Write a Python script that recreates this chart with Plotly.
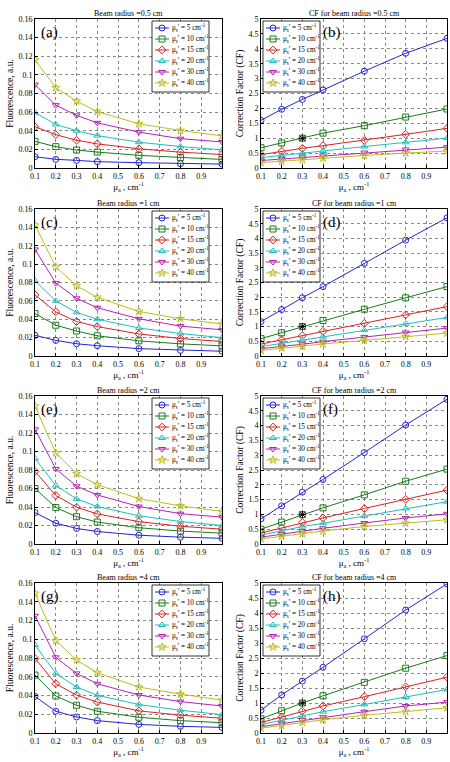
import plotly.graph_objects as go

mua = [0.1, 0.2, 0.3, 0.4, 0.6, 0.8, 1.0]
mus_values = [5, 10, 15, 20, 30, 40]

# Fluorescence (a.u.) per beam radius, rows = mus' 5,10,15,20,30,40
fluor_r05 = [
    [0.0121, 0.0093, 0.0082, 0.0068, 0.0057, 0.0046, 0.0042],
    [0.0286, 0.0229, 0.0193, 0.0171, 0.0136, 0.0112, 0.0092],
    [0.0443, 0.0358, 0.0298, 0.0259, 0.0206, 0.0170, 0.0145],
    [0.0595, 0.0468, 0.0400, 0.0348, 0.0277, 0.0230, 0.0195],
    [0.0895, 0.0675, 0.0565, 0.0485, 0.0385, 0.0315, 0.0280],
    [0.1160, 0.0862, 0.0718, 0.0605, 0.0475, 0.0403, 0.0345],
]
fluor_r1 = [
    [0.0225, 0.0170, 0.0133, 0.0112, 0.0080, 0.0062, 0.0052],
    [0.0462, 0.0335, 0.0272, 0.0220, 0.0165, 0.0132, 0.0110],
    [0.0665, 0.0480, 0.0375, 0.0320, 0.0240, 0.0190, 0.0158],
    [0.0820, 0.0600, 0.0475, 0.0400, 0.0305, 0.0245, 0.0200],
    [0.1160, 0.0795, 0.0628, 0.0525, 0.0405, 0.0325, 0.0285],
    [0.1425, 0.0970, 0.0765, 0.0638, 0.0485, 0.0405, 0.0348],
]
fluor_r2 = [
    [0.0340, 0.0225, 0.0168, 0.0135, 0.0095, 0.0074, 0.0062],
    [0.0600, 0.0395, 0.0295, 0.0237, 0.0176, 0.0140, 0.0117],
    [0.0785, 0.0525, 0.0398, 0.0325, 0.0242, 0.0192, 0.0160],
    [0.0925, 0.0632, 0.0488, 0.0405, 0.0305, 0.0243, 0.0200],
    [0.1240, 0.0812, 0.0625, 0.0530, 0.0405, 0.0328, 0.0290],
    [0.1490, 0.0985, 0.0760, 0.0642, 0.0490, 0.0412, 0.0352],
]
fluor_r4 = [
    [0.0390, 0.0232, 0.0171, 0.0132, 0.0092, 0.0071, 0.0060],
    [0.0618, 0.0395, 0.0296, 0.0232, 0.0168, 0.0132, 0.0110],
    [0.0795, 0.0525, 0.0404, 0.0330, 0.0236, 0.0190, 0.0157],
    [0.0940, 0.0636, 0.0490, 0.0402, 0.0304, 0.0243, 0.0196],
    [0.1250, 0.0807, 0.0636, 0.0525, 0.0405, 0.0335, 0.0288],
    [0.1490, 0.0986, 0.0779, 0.0643, 0.0490, 0.0415, 0.0350],
]

# Correction factor per beam radius
cf_r05 = [
    [1.60, 1.97, 2.30, 2.62, 3.25, 3.85, 4.35],
    [0.68, 0.84, 1.00, 1.17, 1.42, 1.71, 1.98],
    [0.45, 0.56, 0.66, 0.75, 0.93, 1.13, 1.33],
    [0.35, 0.43, 0.50, 0.57, 0.72, 0.86, 1.00],
    [0.25, 0.30, 0.36, 0.42, 0.52, 0.62, 0.70],
    [0.18, 0.23, 0.28, 0.33, 0.42, 0.50, 0.57],
]
cf_r1 = [
    [1.17, 1.58, 1.98, 2.36, 3.15, 3.94, 4.70],
    [0.59, 0.79, 1.00, 1.21, 1.59, 1.98, 2.36],
    [0.41, 0.55, 0.69, 0.84, 1.11, 1.40, 1.68],
    [0.32, 0.43, 0.55, 0.66, 0.88, 1.10, 1.31],
    [0.25, 0.32, 0.40, 0.49, 0.65, 0.80, 0.95],
    [0.19, 0.27, 0.33, 0.41, 0.53, 0.66, 0.78],
]
cf_r2 = [
    [0.85, 1.29, 1.75, 2.18, 3.09, 4.02, 4.89],
    [0.50, 0.74, 0.99, 1.22, 1.66, 2.12, 2.53],
    [0.37, 0.54, 0.73, 0.88, 1.20, 1.51, 1.82],
    [0.30, 0.44, 0.59, 0.70, 0.95, 1.20, 1.43],
    [0.23, 0.33, 0.44, 0.53, 0.71, 0.88, 1.02],
    [0.17, 0.26, 0.35, 0.44, 0.59, 0.70, 0.82],
]
cf_r4 = [
    [0.76, 1.27, 1.73, 2.19, 3.14, 4.10, 4.97],
    [0.47, 0.74, 1.00, 1.24, 1.69, 2.16, 2.58],
    [0.35, 0.53, 0.73, 0.90, 1.21, 1.54, 1.86],
    [0.28, 0.43, 0.58, 0.71, 0.95, 1.20, 1.45],
    [0.21, 0.31, 0.43, 0.53, 0.71, 0.90, 1.03],
    [0.16, 0.25, 0.35, 0.44, 0.59, 0.72, 0.84],
]

ref_point_x = [0.3]
ref_point_y = [1.0]

panel_titles = [
    "Beam radius =0.5 cm", "CF for beam radius =0.5 cm",
    "Beam radius =1 cm", "CF for beam radius =1 cm",
    "Beam radius =2 cm", "CF for beam radius =2 cm",
    "Beam radius =4 cm", "CF for beam radius =4 cm",
]
panel_letters = ["(a)", "(b)", "(c)", "(d)", "(e)", "(f)", "(g)", "(h)"]
panel_data = [fluor_r05, cf_r05, fluor_r1, cf_r1, fluor_r2, cf_r2, fluor_r4, cf_r4]

colors = ["#2424d2", "#1c7a1c", "#d42424", "#22bdbd", "#b422b4", "#bdbd1e"]
symbols = ["circle-open", "square-open", "diamond-open", "triangle-up-open",
           "triangle-down-open", "star-open"]

W, H = 450, 762
FONT = "Liberation Serif, Times New Roman, serif"

# plot-area boxes in pixels
row_px = [(19, 168), (209, 356), (396, 544), (583, 733)]
col_px = [(35, 222), (261, 447)]


def px_x(v):
    return v / W


def px_y(v):
    return 1 - v / H


fig = go.Figure()
layout = {}
annotations = []

LEG_W, LEG_H, LEG_STEP = 57, 71, 11.0
leg_boxes = []

for p in range(8):
    r, c = divmod(p, 2)
    idx = p + 1
    xa = "xaxis" if idx == 1 else f"xaxis{idx}"
    ya = "yaxis" if idx == 1 else f"yaxis{idx}"
    xr = "x" if idx == 1 else f"x{idx}"
    yr = "y" if idx == 1 else f"y{idx}"
    top, bot = row_px[r]
    left, right = col_px[c]
    is_cf = (c == 1)

    for s in range(6):
        fig.add_trace(go.Scatter(
            x=mua, y=panel_data[p][s], mode="lines+markers",
            name=f"μs' = {mus_values[s]} cm-1",
            line=dict(color=colors[s], width=1),
            marker=dict(symbol=symbols[s], color=colors[s], size=6,
                        line=dict(width=1, color=colors[s])),
            xaxis=xr, yaxis=yr, showlegend=False,
        ))
    if is_cf:
        fig.add_trace(go.Scatter(
            x=ref_point_x, y=ref_point_y, mode="markers",
            marker=dict(symbol="asterisk-open", color="black", size=6,
                        line=dict(width=1, color="black")),
            xaxis=xr, yaxis=yr, showlegend=False, hoverinfo="skip",
        ))

    layout[xa] = dict(
        domain=[px_x(left), px_x(right)], anchor=yr, range=[0.1, 1.0],
        tickvals=[0.1, 0.2, 0.3, 0.4, 0.5, 0.6, 0.7, 0.8, 0.9],
        ticktext=["0.1", "0.2", "0.3", "0.4", "0.5", "0.6", "0.7", "0.8", "0.9"],
        showgrid=True, gridcolor="#8a8a8a", griddash="dot", gridwidth=0.6,
        showline=True, linecolor="black", linewidth=0.8, mirror=True,
        ticks="inside", ticklen=3, tickcolor="black",
        tickfont=dict(family=FONT, size=8, color="black"),
        title=dict(text="μ<sub>a</sub> , cm<sup>-1</sup>", standoff=1,
                   font=dict(family=FONT, size=9, color="black")),
        zeroline=False, automargin=False,
    )
    if is_cf:
        yvals = [0, 0.5, 1, 1.5, 2, 2.5, 3, 3.5, 4, 4.5, 5]
        ytext = ["0", "0.5", "1", "1.5", "2", "2.5", "3", "3.5", "4", "4.5", "5"]
        yrange = [0, 5]
        ytitle = "Correction Factor (CF)"
    else:
        yvals = [0, 0.02, 0.04, 0.06, 0.08, 0.1, 0.12, 0.14, 0.16]
        ytext = ["0", "0.02", "0.04", "0.06", "0.08", "0.1", "0.12", "0.14", "0.16"]
        yrange = [0, 0.16]
        ytitle = "Fluorescence, a.u."
    layout[ya] = dict(
        domain=[px_y(bot), px_y(top)], anchor=xr, range=yrange,
        tickvals=yvals, ticktext=ytext,
        showgrid=True, gridcolor="#8a8a8a", griddash="dot", gridwidth=0.6,
        showline=True, linecolor="black", linewidth=0.8, mirror=True,
        ticks="inside", ticklen=3, tickcolor="black",
        tickfont=dict(family=FONT, size=8, color="black"),
        title=dict(text=ytitle, standoff=3,
                   font=dict(family=FONT, size=9.5, color="black")),
        zeroline=False, automargin=False,
    )
    if is_cf:
        bl = left + 2
    else:
        bl = right - 13 - LEG_W
    bt = top + 2
    leg_boxes.append((bl, bt))

    annotations.append(dict(
        text=panel_titles[p], xref="paper", yref="paper",
        x=px_x((left + right) / 2), y=px_y(top - 6),
        xanchor="center", yanchor="middle", showarrow=False,
        font=dict(family=FONT, size=8, color="black"),
    ))
    annotations.append(dict(
        text=panel_letters[p], xref=f"{xr} domain", yref=f"{yr} domain",
        x=0.32 if is_cf else 0.02, y=0.98, xanchor="left", yanchor="top",
        showarrow=False,
        font=dict(family=FONT, size=15, color="black"),
    ))

# ---- compact legends on an overlay axis in pixel units ----
layout["xaxis9"] = dict(domain=[0, 1], range=[0, W], visible=False,
                        anchor="y9", fixedrange=True)
layout["yaxis9"] = dict(domain=[0, 1], range=[H, 0], visible=False,
                        anchor="x9", fixedrange=True)

bx, by = [], []
for (bl, bt) in leg_boxes:
    bx += [bl, bl + LEG_W, bl + LEG_W, bl, bl, None]
    by += [bt, bt, bt + LEG_H, bt + LEG_H, bt, None]
fig.add_trace(go.Scatter(
    x=bx, y=by, mode="lines", fill="toself", fillcolor="white",
    line=dict(color="black", width=0.8), xaxis="x9", yaxis="y9",
    showlegend=False, hoverinfo="skip",
))
for s in range(6):
    lx, ly, mx, my = [], [], [], []
    for (bl, bt) in leg_boxes:
        yc = bt + 7 + s * LEG_STEP
        lx += [bl + 3, bl + 17, None]
        ly += [yc, yc, None]
        mx.append(bl + 10)
        my.append(yc)
    fig.add_trace(go.Scatter(
        x=lx, y=ly, mode="lines", line=dict(color=colors[s], width=1),
        xaxis="x9", yaxis="y9", showlegend=False, hoverinfo="skip",
    ))
    fig.add_trace(go.Scatter(
        x=mx, y=my, mode="markers",
        marker=dict(symbol=symbols[s], color=colors[s], size=6,
                    line=dict(width=1, color=colors[s])),
        xaxis="x9", yaxis="y9", showlegend=False, hoverinfo="skip",
    ))
    for (bl, bt) in leg_boxes:
        yc = bt + 7 + s * LEG_STEP
        annotations.append(dict(
            text=f"μ<sub>s</sub>' = {mus_values[s]} cm<sup>-1</sup>",
            xref="x9", yref="y9", x=bl + 18, y=yc,
            xanchor="left", yanchor="middle", showarrow=False,
            font=dict(family=FONT, size=7.2, color="black"),
        ))

fig.update_layout(
    width=W, height=H, margin=dict(l=0, r=0, t=0, b=0),
    paper_bgcolor="white", plot_bgcolor="rgba(0,0,0,0)",
    annotations=annotations, showlegend=False, hovermode=False, **layout,
)
fig.write_html(
    "out.html",
    config={"displayModeBar": False},
    post_script="document.body.style.margin='0';document.body.style.overflow='hidden';",
)
